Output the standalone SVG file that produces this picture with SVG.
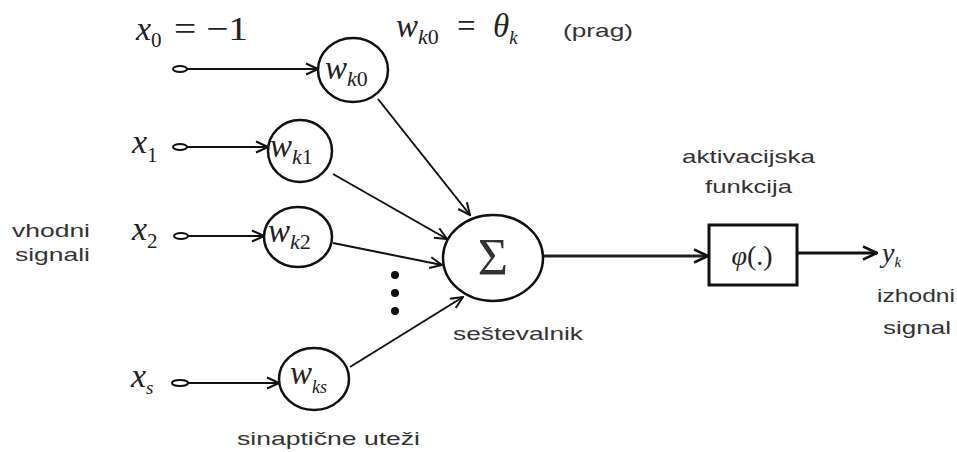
<svg xmlns="http://www.w3.org/2000/svg" width="957" height="452" viewBox="0 0 957 452">
  <defs>
    <marker id="arr" viewBox="0 0 14 14" refX="13" refY="7" markerWidth="14" markerHeight="14" markerUnits="userSpaceOnUse" orient="auto">
      <path d="M1,1.5 L13,7 L1,12.5" fill="none" stroke="#111" stroke-width="2"/>
    </marker>
    <marker id="arrBig" viewBox="0 0 16 16" refX="15" refY="8" markerWidth="16" markerHeight="16" markerUnits="userSpaceOnUse" orient="auto">
      <path d="M1,1.5 L15,8 L1,14.5" fill="none" stroke="#111" stroke-width="2.5"/>
    </marker>
  </defs>
  <style>
    .node { fill: #fff; stroke: #111; stroke-width: 2.5; }
    .term { fill: #fff; stroke: #111; stroke-width: 2; }
    .edge { fill: none; stroke: #111; stroke-width: 2; marker-end: url(#arr); }
    .math { font-family: "Liberation Serif", "DejaVu Serif", serif; font-style: italic; fill: #222; }
    .up { font-style: normal; }
    .lbl { font-family: "Liberation Sans", Arial, sans-serif; font-size: 19px; fill: #333; }
  </style>

  <!-- connectors -->
  <g id="connectors">
    <line class="edge" x1="187" y1="69" x2="318" y2="69"/>
    <line class="edge" x1="187" y1="147" x2="268" y2="147"/>
    <line class="edge" x1="188" y1="236" x2="264" y2="236"/>
    <line class="edge" x1="188" y1="383" x2="279" y2="383"/>
    <line class="edge" x1="378" y1="99" x2="470" y2="215"/>
    <line class="edge" x1="333" y1="174" x2="447" y2="239"/>
    <line class="edge" x1="333" y1="243" x2="442" y2="265"/>
    <line class="edge" x1="350" y1="367" x2="463" y2="297"/>
    <line x1="543" y1="256" x2="708" y2="256" fill="none" stroke="#222" stroke-width="3" marker-end="url(#arrBig)"/>
    <line x1="797" y1="253" x2="877" y2="253" fill="none" stroke="#111" stroke-width="3" marker-end="url(#arrBig)"/>
  </g>

  <!-- input terminals -->
  <g id="inputs">
    <ellipse class="term" cx="180" cy="69" rx="7" ry="3"/>
    <ellipse class="term" cx="180" cy="147" rx="7" ry="3"/>
    <ellipse class="term" cx="181" cy="236" rx="7" ry="3"/>
    <ellipse class="term" cx="180" cy="383" rx="8" ry="3"/>
    <text class="math" x="136" y="40" font-size="34">x<tspan class="up" font-size="21" dy="7">0</tspan><tspan class="up" x="174" dy="-7" textLength="74" lengthAdjust="spacingAndGlyphs">= −1</tspan></text>
    <text class="math" x="132" y="153" font-size="34">x<tspan class="up" font-size="21" dy="9">1</tspan></text>
    <text class="math" x="132" y="240" font-size="34">x<tspan class="up" font-size="21" dy="8">2</tspan></text>
    <text class="math" x="131" y="387" font-size="34">x<tspan font-size="19" dy="7">s</tspan></text>
  </g>

  <!-- synaptic weights -->
  <g id="w_k0">
    <ellipse class="node" cx="353" cy="70" rx="35" ry="32"/>
    <text class="math" x="325" y="79" font-size="33">w<tspan font-size="22" dy="7">k</tspan><tspan class="up" font-size="22">0</tspan></text>
  </g>
  <g id="w_k1">
    <ellipse class="node" cx="300" cy="151" rx="32" ry="31"/>
    <text class="math" x="270" y="157" font-size="33">w<tspan font-size="22" dy="7">k</tspan><tspan class="up" font-size="22">1</tspan></text>
  </g>
  <g id="w_k2">
    <ellipse class="node" cx="298" cy="237" rx="34" ry="30"/>
    <text class="math" x="268" y="242" font-size="33">w<tspan font-size="22" dy="7">k</tspan><tspan class="up" font-size="22">2</tspan></text>
  </g>
  <g id="w_ks">
    <ellipse class="node" cx="314" cy="379" rx="35" ry="31"/>
    <text class="math" x="290" y="384" font-size="33">w<tspan font-size="18" dy="9">ks</tspan></text>
  </g>

  <!-- omitted inputs -->
  <g id="ellipsis" fill="#111">
    <circle cx="395" cy="275" r="4"/>
    <circle cx="395" cy="293" r="4"/>
    <circle cx="395" cy="311" r="4"/>
  </g>

  <!-- bias definition -->
  <g id="bias">
    <text class="math" x="396" y="37" font-size="33">w<tspan font-size="22" dy="7">k</tspan><tspan class="up" font-size="22">0</tspan><tspan class="up" dy="-7" x="457">=</tspan><tspan x="493">θ</tspan><tspan font-size="19" dy="7">k</tspan></text>
    <text class="lbl" x="563" y="37" font-size="18" textLength="70" lengthAdjust="spacingAndGlyphs">(prag)</text>
  </g>

  <!-- summing junction -->
  <g id="sum">
    <ellipse class="node" cx="493" cy="258" rx="50" ry="43"/>
    <text x="493" y="275" font-family="Liberation Serif, DejaVu Serif, serif" font-size="52" fill="#333" text-anchor="middle">Σ</text>
    <text class="lbl" x="453" y="340" textLength="130" lengthAdjust="spacingAndGlyphs">seštevalnik</text>
  </g>

  <!-- activation function -->
  <g id="activation">
    <rect x="709" y="225" width="88" height="60" fill="#fff" stroke="#111" stroke-width="3"/>
    <text class="math" x="752" y="265" font-size="28" text-anchor="middle">φ<tspan class="up">(.)</tspan></text>
    <text class="lbl" x="682" y="163" textLength="133" lengthAdjust="spacingAndGlyphs">aktivacijska</text>
    <text class="lbl" x="705" y="193" textLength="87" lengthAdjust="spacingAndGlyphs">funkcija</text>
  </g>

  <!-- output -->
  <g id="output">
    <text class="math" x="882" y="262" font-size="28">y<tspan font-size="15" dy="5">k</tspan></text>
    <text class="lbl" x="877" y="302" textLength="78" lengthAdjust="spacingAndGlyphs">izhodni</text>
    <text class="lbl" x="883" y="334" textLength="68" lengthAdjust="spacingAndGlyphs">signal</text>
  </g>

  <!-- side labels -->
  <g id="labels">
    <text class="lbl" x="12" y="237" textLength="78" lengthAdjust="spacingAndGlyphs">vhodni</text>
    <text class="lbl" x="15" y="261" textLength="75" lengthAdjust="spacingAndGlyphs">signali</text>
    <text class="lbl" x="237" y="445" textLength="183" lengthAdjust="spacingAndGlyphs">sinaptične uteži</text>
  </g>
</svg>
